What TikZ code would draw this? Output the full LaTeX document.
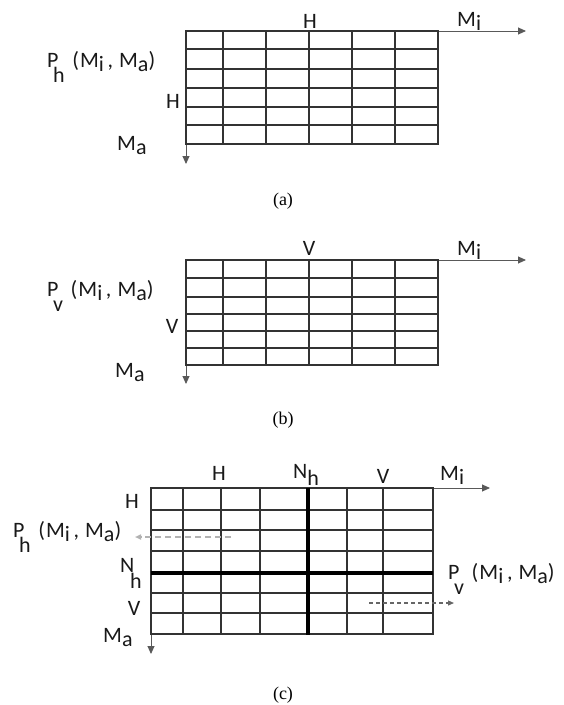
\documentclass[tikz,border=0pt]{standalone}
\usepackage{fontspec}
\setmainfont{Liberation Serif}
\newfontfamily\lblfont[LetterSpace=5]{Carlito}
\usetikzlibrary{arrows.meta}
\newcommand{\lsub}[1]{\raisebox{-0.22em}{#1}}
\newcommand{\pfun}[1]{P\kern-0.25em\raisebox{-0.72em}{#1}\kern0.35em(M\lsub{i}\,, M\lsub{a})}
\newcommand{\nsub}[2]{N\kern#1\raisebox{#2}{h}}

\begin{document}
\begin{tikzpicture}[x=1pt, y=-1pt, >={Triangle[length=8pt,width=7pt]},
  cell/.style={line width=1.4pt, draw=black!80, line cap=rect},
  heavy/.style={line width=3.2pt, draw=black},
  axis/.style={line width=0.9pt, draw=black!65, ->},
  lbl/.style={font=\lblfont\fontsize{22}{24}\selectfont, text=black!90, inner sep=0pt},
  captxt/.style={font=\fontsize{18}{20}\selectfont, inner sep=0pt}]
\useasboundingbox (0,0) rectangle (564,705);
% (a) grid for H
\coordinate (ao) at (186,31);
\coordinate (ax) at (526,31);
\coordinate (ay) at (186,164);
\draw[axis] (ao) -- (ax);
\draw[axis] (ao) -- (ay);
\foreach \x in {186,223,266,309,352,395,438} \draw[cell] (\x,31) -- (\x,144);
\foreach \y in {31,49,69,88,107,125,144} \draw[cell] (186,\y) -- (438,\y);
\node[lbl, anchor=base] (aht) at (310,28) {H};
\node[lbl, anchor=base west] (ami) at (457,26) {M\lsub{i}};
\node[lbl, anchor=base west] (aph) at (47,67) {\pfun{h}};
\node[lbl, anchor=base] (ahl) at (173,108) {H};
\node[lbl, anchor=base west] (ama) at (117,150) {M\lsub{a}};
\node[captxt] (acap) at (283,201) {(a)};
% (b) grid for V
\coordinate (bo) at (186,260);
\coordinate (bx) at (526,260);
\coordinate (by) at (186,384);
\draw[axis] (bo) -- (bx);
\draw[axis] (bo) -- (by);
\foreach \x in {186,223,266,309,352,395,438} \draw[cell] (\x,260) -- (\x,365);
\foreach \y in {260,278,297,314,331,348,365} \draw[cell] (186,\y) -- (438,\y);
\node[lbl, anchor=base] (bvt) at (309,255) {V};
\node[lbl, anchor=base west] (bmi) at (457,255) {M\lsub{i}};
\node[lbl, anchor=base west] (bpv) at (47,296) {\pfun{v}};
\node[lbl, anchor=base] (bvl) at (172,333) {V};
\node[lbl, anchor=base west] (bma) at (115,377) {M\lsub{a}};
\node[captxt] (bcap) at (283,420) {(b)};
% (c) split grid, H and V
\coordinate (co) at (151,488);
\coordinate (cx) at (490,488);
\coordinate (cy) at (151,654);
\draw[axis] (co) -- (cx);
\draw[axis] (co) -- (cy);
\foreach \x in {151,183,221,260,347,383,433} \draw[cell] (\x,488) -- (\x,634);
\foreach \y in {488,510,530,551,593,613,634} \draw[cell] (151,\y) -- (433,\y);
\draw[heavy] (308,488) -- (308,635);
\draw[heavy] (151,573) -- (433,573);
\node[lbl, anchor=base] (cht) at (219,480) {H};
\node[lbl, anchor=base west] (cnt) at (293,478) {\nsub{0em}{-0.35em}};
\node[lbl, anchor=base] (cvt) at (383,483) {V};
\node[lbl, anchor=base west] (cmi) at (440,480) {M\lsub{i}};
\node[lbl, anchor=base] (chl) at (132,508) {H};
\node[lbl, anchor=base west] (cph) at (13,537) {\pfun{h}};
\node[lbl, anchor=base west] (cnl) at (120,572) {\nsub{-0.2em}{-0.75em}};
\node[lbl, anchor=base] (cvl) at (134,615) {V};
\node[lbl, anchor=base west] (cma) at (103,642) {M\lsub{a}};
\node[lbl, anchor=base west] (cpv) at (448,579) {\pfun{v}};
\coordinate (chs) at (231,537);
\coordinate (che) at (135,537);
\coordinate (cvs) at (369,603);
\coordinate (cve) at (454,603);
\draw[gray!60, line width=1.5pt, dash pattern=on 6pt off 4pt, ->, >={Triangle[length=6pt,width=5pt]}] (chs) -- (che);
\draw[black!60, line width=1.2pt, dash pattern=on 4pt off 3pt, ->, >={Triangle[length=6pt,width=5pt]}] (cvs) -- (cve);
\node[captxt] (ccap) at (283,695) {(c)};
\end{tikzpicture}
\end{document}
